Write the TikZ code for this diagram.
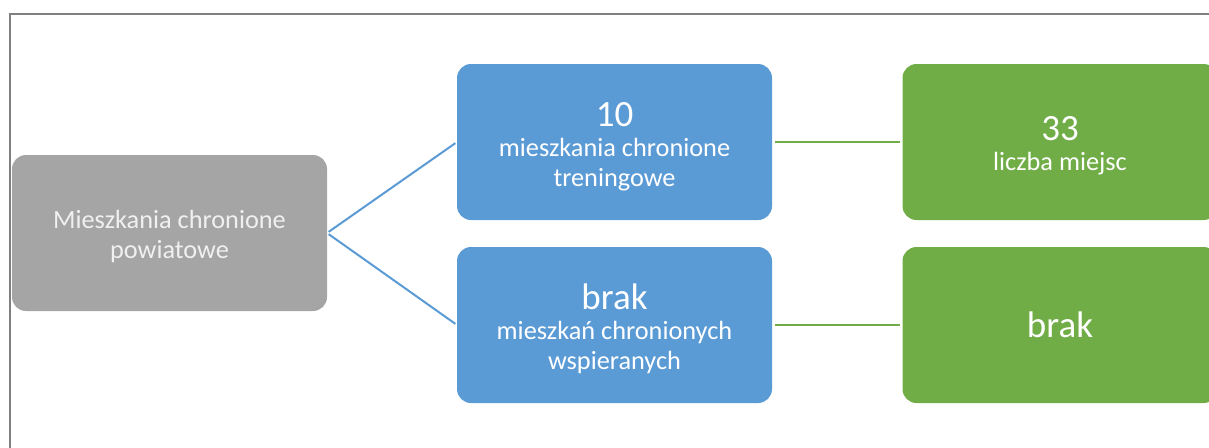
\documentclass[tikz,border=0pt]{standalone}
\usepackage{fontspec}
\setmainfont{Carlito}
\definecolor{boxgray}{HTML}{A5A5A5}
\definecolor{boxblue}{HTML}{5B9BD5}
\definecolor{boxgreen}{HTML}{70AD47}
\definecolor{framegray}{HTML}{808080}
\newcommand{\bigtxt}[1]{{\fontsize{37}{30}\selectfont #1}}
\begin{document}
\begin{tikzpicture}[x=1pt,y=-1pt,
  box/.style={rounded corners=14pt, minimum width=315pt, minimum height=156pt,
    inner sep=0pt, outer sep=0pt},
  graybox/.style={box, fill=boxgray},
  bluebox/.style={box, fill=boxblue},
  greenbox/.style={box, fill=boxgreen},
  txt/.style={inner sep=0pt, text=white, align=center,
    font=\fontsize{26.3}{30}\selectfont},
  graytxt/.style={txt, text=white!94!black},
  blueline/.style={draw=boxblue, line width=2pt, shorten <=2pt, shorten >=2pt},
  greenline/.style={draw=boxgreen, line width=2pt, shorten <=3pt, shorten >=3pt}]
\useasboundingbox (0,0) rectangle (1209,447);
\clip (0,0) rectangle (1209,447);
\draw[framegray, line width=1.5pt] (10,448) -- (10,14) -- (1210,14);
\node[graybox] (pow) at (169.5,233) {};
\node[bluebox] (tre) at (614.5,142) {};
\node[bluebox] (wsp) at (614.5,325) {};
\node[greenbox] (mie) at (1060,142) {};
\node[greenbox] (brk) at (1060,325) {};
\node[graytxt] (powt) at ([yshift=-3pt]pow.center) {Mieszkania chronione\\powiatowe};
\node[txt] (tret) at ([yshift=-4.5pt]tre.center) {\bigtxt{10}\\mieszkania chronione\\treningowe};
\node[txt] (wspt) at ([yshift=-4pt]wsp.center) {\bigtxt{brak}\\mieszkań chronionych\\wspieranych};
\node[txt] (miet) at ([yshift=-4pt]mie.center) {\bigtxt{33}\\liczba miejsc};
\node[txt] (brkt) at (brk.center) {\bigtxt{brak}};
\draw[blueline] (pow.east) -- (tre.west);
\draw[blueline] (pow.east) -- (wsp.west);
\draw[greenline] (tre.east) -- (mie.west);
\draw[greenline] (wsp.east) -- (brk.west);
\end{tikzpicture}
\end{document}
